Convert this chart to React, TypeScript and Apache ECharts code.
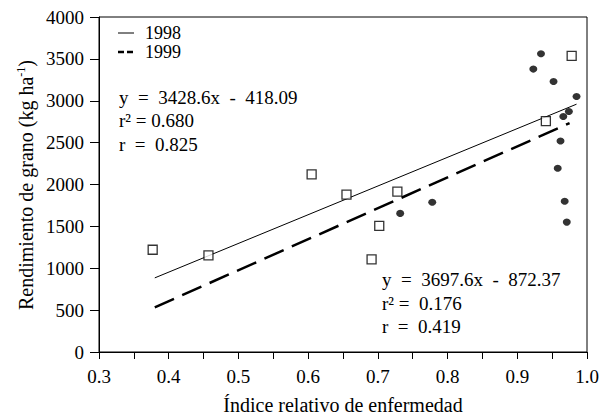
import React, { useEffect, useRef } from "react";
import * as echarts from "echarts";

// Data
const xSquares1998 = [0.377, 0.457, 0.605, 0.655, 0.691, 0.702, 0.728, 0.941, 0.978];
const ySquares1998 = [1221, 1153, 2122, 1878, 1105, 1507, 1914, 2756, 3537];
const xCircles1999 = [0.732, 0.778, 0.923, 0.934, 0.952, 0.958, 0.962, 0.966, 0.968, 0.971, 0.974, 0.985];
const yCircles1999 = [1655, 1787, 3378, 3561, 3230, 2194, 2520, 2811, 1799, 1551, 2871, 3050];

// Regression line end points (from the equations shown)
const fitX1998 = [0.38, 0.985];
const fitY1998 = [885, 2959];
const fitX1999 = [0.38, 0.975];
const fitY1999 = [533, 2733];

const eq1998 = ["y  =  3428.6x  -  418.09", "r\u00B2 = 0.680", "r  =  0.825"];
const eq1999 = ["y  =  3697.6x  -  872.37", "r\u00B2 =  0.176", "r  =  0.419"];
const legendNames = ["1998", "1999"];

const xName = "Índice relativo de enfermedad";

const FONT = "Liberation Serif";
const FS = 19;

export default function App() {
  const ref = useRef<HTMLDivElement>(null);
  useEffect(() => {
    if (!ref.current) return;
    const chart = echarts.init(ref.current, undefined, { renderer: "svg" });
    const zip = (xs: number[], ys: number[]) => xs.map((x, i) => [x, ys[i]]);
    const txt = (text: string, x: number, y: number, fs = FS) => ({
      type: "text",
      x,
      y,
      style: {
        text,
        fontFamily: FONT,
        fontSize: fs,
        fill: "#000",
        align: "left",
        verticalAlign: "middle",
      },
    });
    chart.setOption({
      animation: false,
      backgroundColor: "#fff",
      textStyle: { fontFamily: FONT },
      grid: {
        left: 99,
        right: 13,
        top: 17,
        bottom: 65,
        outerBoundsMode: "none",
        containLabel: false,
        show: true,
        borderColor: "#000",
        borderWidth: 1,
      },
      xAxis: {
        type: "value",
        min: 0.3,
        max: 1.0,
        interval: 0.1,
        name: xName,
        nameLocation: "middle",
        nameGap: 43,
        nameTextStyle: { fontFamily: FONT, fontSize: 20, color: "#000" },
        axisLine: { show: true, onZero: false, lineStyle: { color: "#000", width: 1 } },
        axisTick: { show: true, inside: false, length: 7, lineStyle: { color: "#000" } },
        minorTick: { show: true, splitNumber: 2, length: 7, lineStyle: { color: "#000" } },
        splitLine: { show: false },
        minorSplitLine: { show: false },
        axisLabel: {
          margin: 15,
          fontFamily: FONT,
          fontSize: FS,
          color: "#000",
          formatter: (v: number) => v.toFixed(1),
        },
      },
      yAxis: {
        type: "value",
        min: 0,
        max: 4000,
        interval: 500,
        axisLine: { show: true, lineStyle: { color: "#000", width: 1 } },
        axisTick: { show: true, inside: false, length: 9, lineStyle: { color: "#000" } },
        splitLine: { show: false },
        axisLabel: {
          margin: 15,
          fontFamily: FONT,
          fontSize: FS,
          color: "#000",
          formatter: (v: number) => String(v),
        },
      },
      series: [
        {
          name: "1998",
          type: "scatter",
          data: zip(xSquares1998, ySquares1998),
          symbol: "rect",
          symbolSize: 9,
          itemStyle: { color: "#fff", borderColor: "#000", borderWidth: 1.3 },
          z: 5,
        },
        {
          name: "1999",
          type: "scatter",
          data: zip(xCircles1999, yCircles1999),
          symbol: "circle",
          symbolSize: [8, 7],
          itemStyle: { color: "#000" },
          z: 5,
        },
        {
          name: "fit1998",
          type: "line",
          data: zip(fitX1998, fitY1998),
          symbol: "none",
          lineStyle: { color: "#000", width: 1, type: "solid" },
          z: 3,
        },
        {
          name: "fit1999",
          type: "line",
          data: zip(fitX1999, fitY1999),
          symbol: "none",
          lineStyle: { color: "#000", width: 2.5, type: [21, 9] },
          z: 3,
        },
      ],
      graphic: [
        {
          type: "text",
          x: 26,
          y: 185,
          rotation: Math.PI / 2,
          style: {
            text: "{a|Rendimiento de grano (kg ha}{s|-1}{a|)}",
            align: "center",
            verticalAlign: "middle",
            rich: {
              a: { fontFamily: FONT, fontSize: 20, fill: "#000", lineHeight: 22 },
              s: { fontFamily: FONT, fontSize: 12, fill: "#000", verticalAlign: "top", lineHeight: 22 },
            },
          },
        },
        { type: "line", shape: { x1: 118, y1: 33, x2: 134, y2: 33 }, style: { stroke: "#000", lineWidth: 1 } },
        txt(legendNames[0], 145, 33, 18),
        {
          type: "line",
          shape: { x1: 118, y1: 52, x2: 134, y2: 52 },
          style: { stroke: "#000", lineWidth: 2.5, lineDash: [6, 3] },
        },
        txt(legendNames[1], 145, 52, 18),
        txt(eq1998[0], 119, 97),
        txt(eq1998[1], 119, 120.5),
        txt(eq1998[2], 119, 144),
        txt(eq1999[0], 382, 279),
        txt(eq1999[1], 382, 303),
        txt(eq1999[2], 382, 326.5),
      ],
    });
    return () => chart.dispose();
  }, []);
  return <div ref={ref} style={{ position: "absolute", left: 0, top: 0, width: 600, height: 417 }} />;
}
